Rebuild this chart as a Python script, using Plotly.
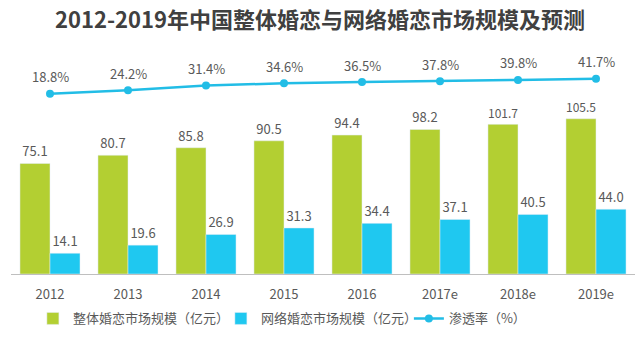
import plotly.graph_objects as go

years = ["2012", "2013", "2014", "2015", "2016", "2017e", "2018e", "2019e"]
total_market = [75.1, 80.7, 85.8, 90.5, 94.4, 98.2, 101.7, 105.5]
online_market = [14.1, 19.6, 26.9, 31.3, 34.4, 37.1, 40.5, 44.0]
penetration = [18.8, 24.2, 31.4, 34.6, 36.5, 37.8, 39.8, 41.7]

name_total = "整体婚恋市场规模（亿元）"
name_online = "网络婚恋市场规模（亿元）"
name_pen = "渗透率（%）"
title = "2012-2019年中国整体婚恋与网络婚恋市场规模及预测"

green = "#b3cf32"
blue = "#1fc8f0"
line_blue = "#22bde6"
gray_text = "#595959"
font_family = "Noto Sans CJK SC, Noto Sans, sans-serif"

fig = go.Figure()
fig.add_trace(go.Bar(
    x=years, y=total_market, name=name_total, marker_color=green,
    text=[f"{v:.1f}" for v in total_market], textposition="outside",
    textfont=dict(size=13, color=gray_text), cliponaxis=False,
))
fig.add_trace(go.Bar(
    x=years, y=online_market, name=name_online, marker_color=blue,
    text=[f"{v:.1f}" for v in online_market], textposition="outside",
    textfont=dict(size=13, color=gray_text), cliponaxis=False,
))
fig.add_trace(go.Scatter(
    x=years, y=penetration, name=name_pen, yaxis="y2",
    mode="lines+markers", line=dict(color=line_blue, width=2.5),
    marker=dict(size=8, color=line_blue), cliponaxis=False,
))
for i, p in enumerate(penetration):
    fig.add_annotation(x=i, y=p, xref="x", yref="y2", text=f"{p:.1f}%", showarrow=False,
                       yshift=17, font=dict(size=13, color=gray_text))

fig.update_layout(
    width=640, height=349,
    margin=dict(l=11, r=5, t=40, b=75),
    paper_bgcolor="white", plot_bgcolor="white",
    font=dict(family=font_family, color=gray_text, size=13),
    title=dict(text=f"<b>{title}</b>", x=0.5, xanchor="center", y=0.942, yanchor="middle",
               font=dict(size=22, color="#404040", family=font_family)),
    barmode="group", bargap=0.23, bargroupgap=0,
    showlegend=True,
    legend=dict(orientation="h", x=0.487, xanchor="center", y=-0.19, yanchor="middle",
                font=dict(size=13, color=gray_text), entrywidth=143, entrywidthmode="pixels",
                traceorder="normal", itemwidth=30),
    xaxis=dict(type="category", range=[-0.5, len(years) - 0.5], showline=True,
               linecolor="#bfbfbf", linewidth=1, ticks="", ticklabelstandoff=8,
               showgrid=False, tickfont=dict(size=13, color=gray_text)),
    yaxis=dict(range=[0, 159], visible=False, showgrid=False),
    yaxis2=dict(range=[-256.5, 100.8], overlaying="y", visible=False, showgrid=False),
)

fig.write_html("out.html")
